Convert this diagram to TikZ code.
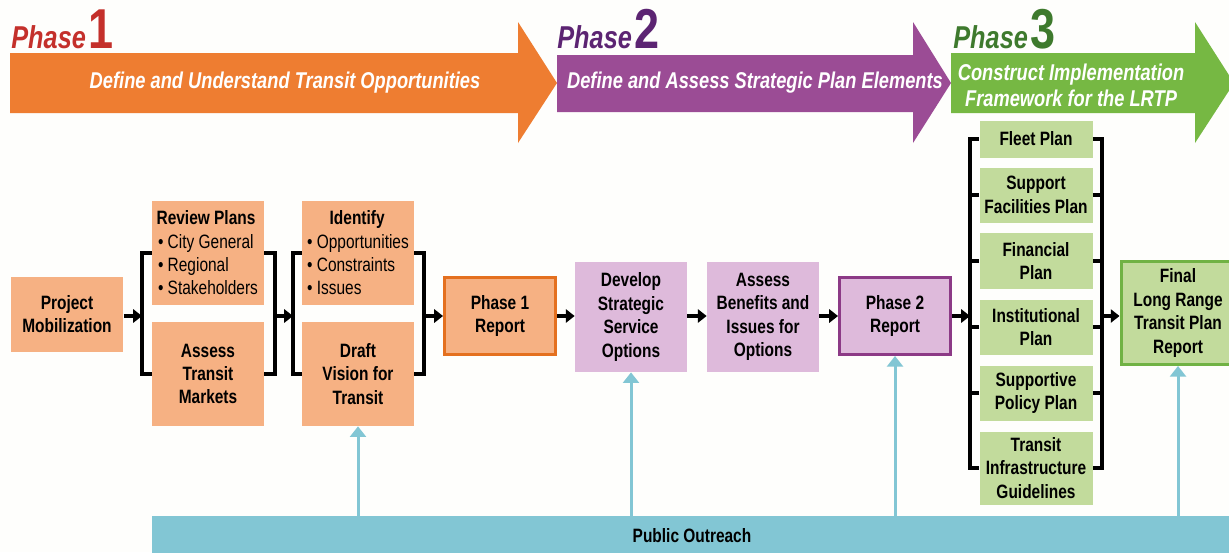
\documentclass[tikz,border=0pt]{standalone}
\usepackage{fontspec}
\setmainfont{Liberation Sans}[FakeStretch=0.8]
\usetikzlibrary{arrows.meta}

\definecolor{paper}{HTML}{FEFEFC}
\definecolor{phorange}{HTML}{EE7D31}
\definecolor{phpurple}{HTML}{9B4C95}
\definecolor{phgreen}{HTML}{76B843}
\definecolor{tred}{HTML}{C4302B}
\definecolor{tpurple}{HTML}{5C2472}
\definecolor{tgreen}{HTML}{3E7A2D}
\definecolor{boxorange}{HTML}{F6B183}
\definecolor{boxpurple}{HTML}{DEBADB}
\definecolor{boxgreen}{HTML}{C2DB9C}
\definecolor{edgeorange}{HTML}{E4701F}
\definecolor{edgepurple}{HTML}{8C3A86}
\definecolor{edgegreen}{HTML}{70B244}
\definecolor{outreach}{HTML}{82C6D4}

\newcommand\boxfont{\bfseries\fontsize{11}{13.3}\selectfont}
\newcommand\phasetitle[1]{{\fontsize{18}{18}\selectfont\bfseries\itshape Phase}\,{\fontsize{32}{32}\selectfont\bfseries #1}}

\tikzset{
  box/.style={inner sep=0pt, align=center, font=\boxfont},
  obox/.style={box, fill=boxorange, minimum width=2.24cm, minimum height=2.08cm},
  pbox/.style={box, fill=boxpurple, minimum width=2.24cm, minimum height=2.2cm},
  gbox/.style={box, fill=boxgreen, minimum width=2.26cm},
  report/.style={box, line width=1.7pt, minimum width=2.22cm, minimum height=1.54cm},
  phtxt/.style={text=white, align=center, font=\bfseries\itshape\fontsize{13}{14.7}\selectfont},
  brk/.style={line width=2.2pt},
  flow/.style={line width=2.2pt, -{Triangle[length=5pt,width=7.5pt]}},
  pub/.style={outreach, line width=1.7pt, -{Triangle[length=6pt,width=9pt]}}
}

\begin{document}
\begin{tikzpicture}[x=0.02cm, y=-0.02cm]
  \useasboundingbox (0,0) rectangle (1229,552);
  \fill[paper] (0,0) rectangle (1229,552);

  % phase arrows
  \fill[phorange] (10,53) -- (518,53) -- (518,22) -- (557,83) -- (518,143) -- (518,113) -- (10,113) -- cycle;
  \fill[phpurple] (557,55) -- (913,55) -- (913,22) -- (951,83) -- (913,143) -- (913,112) -- (557,112) -- cycle;
  \fill[phgreen] (951,53) -- (1195,53) -- (1195,22) -- (1234,83) -- (1195,143) -- (1195,113) -- (951,113) -- cycle;
  \node[anchor=base west, text=tred, inner sep=0pt] (title1) at (11,48) {\phasetitle{1}};
  \node[anchor=base west, text=tpurple, inner sep=0pt] (title2) at (557,48) {\phasetitle{2}};
  \node[anchor=base west, text=tgreen, inner sep=0pt] (title3) at (953,48) {\phasetitle{3}};
  \node[phtxt] (text1) at (285,83) {Define and Understand Transit Opportunities};
  \node[phtxt] (text2) at (755,83) {Define and Assess Strategic Plan Elements};
  \node[phtxt] (text3) at (1071,85) {Construct Implementation\\Framework for the LRTP};

  % phase 1
  \node[obox, minimum width=2.26cm, minimum height=1.5cm] (proj) at (67,314) {Project\\Mobilization};
  \node[obox, align=left] (review) at (208,253)
    {\makebox[1.92cm]{Review Plans}\\\mdseries\textbullet\ City General\\\mdseries\textbullet\ Regional\\\mdseries\textbullet\ Stakeholders};
  \node[obox] (markets) at (208,374) {Assess\\Transit\\Markets};
  \node[obox, align=left] (ident) at (358,253)
    {\makebox[2.0cm]{Identify}\\\mdseries\textbullet\ Opportunities\\\mdseries\textbullet\ Constraints\\\mdseries\textbullet\ Issues};
  \node[obox] (vision) at (358,374) {Draft\\Vision for\\Transit};
  \node[report, fill=boxorange, draw=edgeorange] (rep1) at (500,316) {Phase 1\\Report};

  % phase 2
  \node[pbox] (develop) at (631,317) {Develop\\Strategic\\Service\\Options};
  \node[pbox] (assess) at (763,317) {Assess\\Benefits and\\Issues for\\Options};
  \node[report, fill=boxpurple, draw=edgepurple] (rep2) at (895,316) {Phase 2\\Report};

  % phase 3
  \node[gbox, minimum height=0.74cm] (fleet) at (1036,139) {Fleet Plan};
  \node[gbox, minimum height=1.1cm] (support) at (1036,195) {Support\\Facilities Plan};
  \node[gbox, minimum height=1.12cm] (financial) at (1036,261) {Financial\\Plan};
  \node[gbox, minimum height=1.1cm] (institutional) at (1036,327) {Institutional\\Plan};
  \node[gbox, minimum height=1.1cm] (supportive) at (1036,393) {Supportive\\Policy Plan};
  \node[gbox, minimum height=1.46cm] (infra) at (1036,468) {Transit\\Infrastructure\\Guidelines};
  \node[report, fill=boxgreen, draw=edgegreen, minimum width=2.28cm, minimum height=2.06cm] (final) at (1178,313)
    {Final\\Long Range\\Transit Plan\\Report};

  \node[box, fill=outreach, minimum width=21.6cm, minimum height=0.8cm] (outreach) at (692,536) {Public Outreach};

  % brackets
  \coordinate (lbA) at (142,316);
  \coordinate (rbA) at (275,316);
  \coordinate (lbB) at (293,316);
  \coordinate (rbB) at (424,316);
  \coordinate (lbC) at (970,316);
  \coordinate (rbC) at (1102,316);
  \draw[brk] (review.west) -| (lbA) |- (markets.west);
  \draw[brk] (review.east) -| (rbA) |- (markets.east);
  \draw[brk] (ident.west) -| (lbB) |- (vision.west);
  \draw[brk] (ident.east) -| (rbB) |- (vision.east);
  \draw[brk] (fleet.west) -| (lbC) |- (infra.west);
  \draw[brk] (fleet.east) -| (rbC) |- (infra.east);
  \foreach \b in {support,financial,institutional,supportive}
    {\draw[brk] (\b.west) -- (\b.west -| lbC);
     \draw[brk] (\b.east) -- (\b.east -| rbC);}

  % flow
  \draw[flow] (proj.east |- lbA) -- (lbA);
  \draw[flow] (rbA) -- (lbB);
  \draw[flow] (rbB) -- (rep1.west |- rbB);
  \draw[flow] (rep1.east |- rbB) -- (develop.west |- rbB);
  \draw[flow] (develop.east |- rbB) -- (assess.west |- rbB);
  \draw[flow] (assess.east |- rbB) -- (rep2.west |- rbB);
  \draw[flow] (rep2.east |- lbC) -- (lbC);
  \draw[flow] (rbC) -- (final.west |- rbC);

  % public outreach
  \foreach \n in {vision,develop,rep2,final}
    {\draw[pub] (\n.south |- outreach.north) -- (\n.south);}
\end{tikzpicture}
\end{document}
